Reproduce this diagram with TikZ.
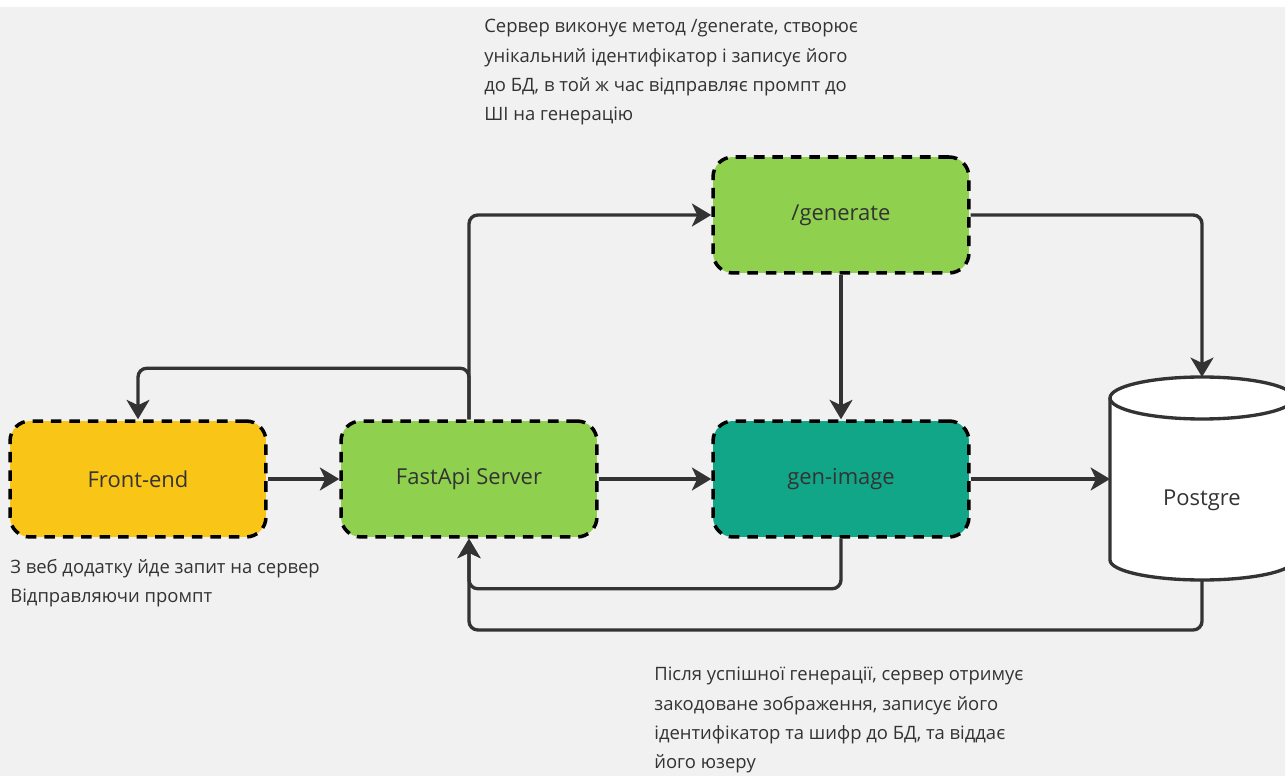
\documentclass[tikz,border=0pt]{standalone}
\usepackage{fontspec}
\setmainfont{Open Sans}
\usetikzlibrary{positioning, calc, arrows.meta}
\definecolor{Dark}{HTML}{333333}
\definecolor{Sun}{HTML}{F9C618}
\definecolor{Leaf}{HTML}{8FD14F}
\definecolor{Teal}{HTML}{12A689}
\definecolor{Paper}{HTML}{F1F1F1}
\tikzset{
    box/.style={rectangle, rounded corners=0.4cm, draw=black, line width=2pt,
        dash pattern=on 6pt off 4.5pt, minimum width=5.12cm, minimum height=2.32cm,
        text=Dark, font=\fontsize{12.5}{15}\selectfont},
    sunnode/.style={box, fill=Sun},
    leafnode/.style={box, fill=Leaf},
    tealnode/.style={box, fill=Teal},
    arrow/.style={-{Stealth[length=11pt, width=13pt, inset=3pt]}, line width=1.9pt,
        color=Dark, rounded corners=5pt},
    note/.style={anchor=north west, align=left, inner sep=0pt, text=Dark,
        font=\fontsize{10.5}{16.7}\selectfont},
}

\begin{document}
\begin{tikzpicture}[x=0.02cm, y=-0.02cm]
    \useasboundingbox (0,0) rectangle (1285,776);
    \clip (0,0) rectangle (1285,776);
    \fill[Paper] (0,0) rectangle (1285,776);
    \fill[white] (0,0) rectangle (1285,7);

    % blocks
    \node[sunnode] (front) at (138,479) {Front-end};
    \node[leafnode] (fastapi) at (469,479) {FastApi Server};
    \node[leafnode] (generate) at (841,215) {/generate};
    \node[tealnode] (genimg) at (841,479) {gen-image};

    % Postgre
    \draw[Dark, line width=1.9pt, fill=white] (1110,398) -- (1110,560)
        arc[start angle=180, end angle=0, x radius=92, y radius=20] -- (1294,398);
    \draw[Dark, line width=1.9pt, fill=white] (1202,398) ellipse [x radius=92, y radius=21];
    \node[text=Dark, font=\fontsize{12.5}{15}\selectfont] (postgre) at (1202,500) {Postgre};
    \coordinate (pgtop) at (1202,377);
    \coordinate (pgleft) at (1110,479);
    \coordinate (pgbot) at (1202,580);

    % connectors
    \draw[arrow] (front) -- (fastapi);
    \draw[arrow] (fastapi) -- (genimg);
    \draw[arrow] (genimg) -- (pgleft);
    \draw[arrow] (fastapi.north) |- (generate.west);
    \draw[arrow] (fastapi.north) -- ++(0,-51) -| (front.north);
    \draw[arrow] (generate.east) -| (pgtop);
    \draw[arrow] (generate) -- (genimg);
    \draw[arrow] (genimg.south) -- ++(0,50) -| (fastapi.south);
    \draw[arrow] (pgbot) -- ++(0,50) -| (fastapi.south);

    % notes
    \node[note] (topnote) at (484,19) {Сервер виконує метод /generate, створює\\унікальний ідентифікатор і записує його\\до БД, в той ж час відправляє промпт до\\ШІ на генерацію};
    \node[note] (leftnote) at (10,559) {З веб додатку йде запит на сервер\\Відправляючи промпт};
    \node[note] (botnote) at (654,667) {Після успішної генерації, сервер отримує\\закодоване зображення, записує його\\ідентифікатор та шифр до БД, та віддає\\його юзеру};
\end{tikzpicture}
\end{document}
